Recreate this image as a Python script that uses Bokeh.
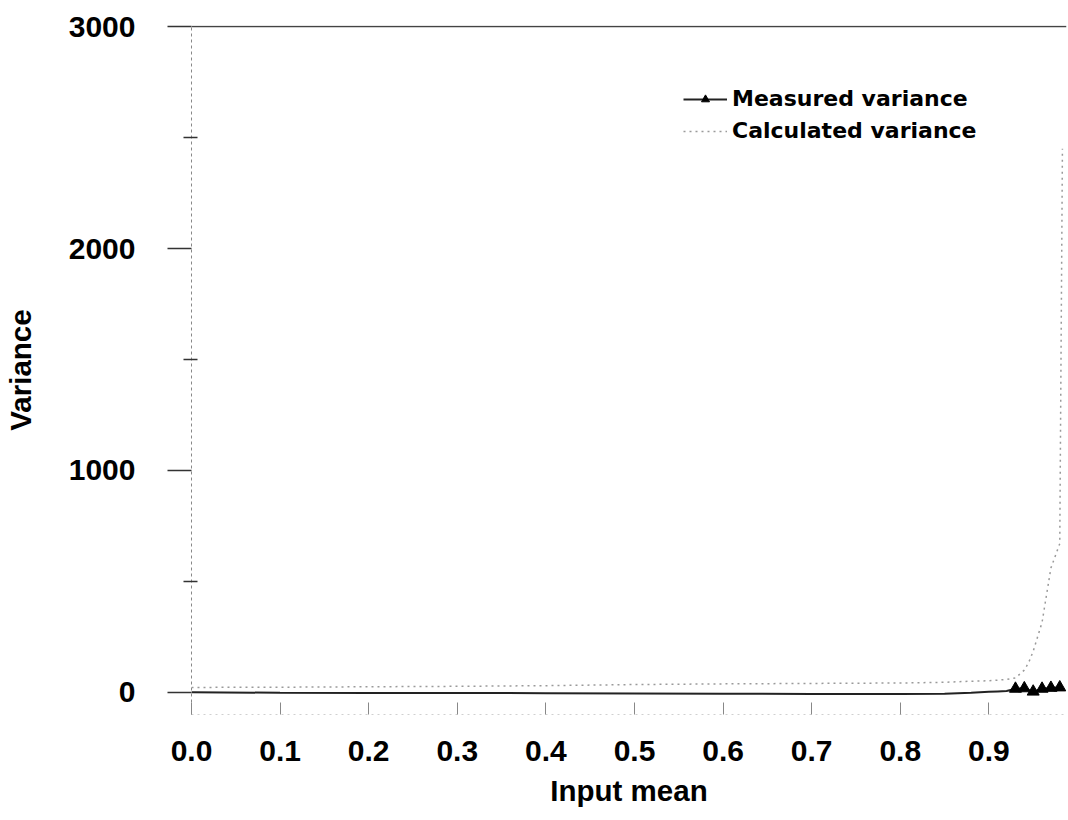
from bokeh.plotting import figure
from bokeh.models import Range1d, FixedTicker, Span, Legend, LegendItem, ColumnDataSource
from bokeh.embed import file_html
from bokeh.resources import INLINE

# ---- data ----
x_ticks = [0.0, 0.1, 0.2, 0.3, 0.4, 0.5, 0.6, 0.7, 0.8, 0.9]
x_tick_labels = ["0.0", "0.1", "0.2", "0.3", "0.4", "0.5", "0.6", "0.7", "0.8", "0.9"]
y_ticks = [0, 1000, 2000, 3000]
y_minor_ticks = [500, 1500, 2500]

measured_mean = [0.0, 0.1, 0.2, 0.3, 0.4, 0.5, 0.6, 0.7, 0.8, 0.85, 0.88,
                 0.90, 0.91, 0.92, 0.93, 0.94, 0.95, 0.96, 0.97, 0.98]
measured_var = [0, -2, -3, -3, -4, -5, -6, -8, -8, -6, -2,
                2, 4, 6, 16, 18, 3, 16, 20, 22]

calc_mean = [0.0, 0.1, 0.2, 0.3, 0.4, 0.5, 0.6, 0.7, 0.8, 0.85, 0.88, 0.90,
             0.92, 0.93, 0.94, 0.945, 0.95, 0.96, 0.97, 0.98, 0.983]
calc_var = [22, 23, 25, 27, 30, 35, 38, 40, 42, 45, 50, 52,
            58, 65, 100, 135, 185, 315, 560, 670, 2450]

marker_from = 0.93  # triangles are distinct only from here on

FONT = "Liberation Sans"
LEGEND_FONT = "DejaVu Sans"

p = figure(width=1068, height=820, output_backend="svg", toolbar_location=None,
           x_range=Range1d(0, 0.9876), y_range=Range1d(-100, 3005),
           min_border_left=191, min_border_right=2, min_border_top=25, min_border_bottom=106)
p.outline_line_color = None
p.xgrid.visible = False
p.ygrid.visible = False
p.background_fill_color = "white"
p.border_fill_color = "white"

# top line at 3000
p.add_layout(Span(location=3000, dimension="width", line_color="#444444", line_width=1.5))

calc_src = ColumnDataSource(dict(x=calc_mean, y=calc_var))
meas_src = ColumnDataSource(dict(x=measured_mean, y=measured_var))
mk = [i for i, m in enumerate(measured_mean) if m >= marker_from]
mark_src = ColumnDataSource(dict(x=[measured_mean[i] for i in mk], y=[measured_var[i] for i in mk]))

r_calc = p.line("x", "y", source=calc_src, line_color="#9a9a9a", line_width=1.5, line_dash="2 4")
r_meas = p.line("x", "y", source=meas_src, line_color="#222222", line_width=2)
r_mark = p.scatter("x", "y", source=mark_src, marker="triangle", size=12,
                   fill_color="black", line_color="black")

# x axis
xa = p.xaxis[0]
xa.ticker = FixedTicker(ticks=x_ticks, minor_ticks=[])
xa.major_label_overrides = {t: l for t, l in zip(x_ticks, x_tick_labels)}
xa.axis_line_color = "#d0d0d0"
xa.axis_line_dash = "2 4"
xa.major_tick_in = 12
xa.major_tick_out = 0
xa.major_tick_line_color = "#888888"
xa.minor_tick_line_color = None
xa.major_label_standoff = 26
xa.major_label_text_font = FONT
xa.major_label_text_font_style = "bold"
xa.major_label_text_font_size = "30px"
xa.major_label_text_color = "black"
xa.axis_label = "Input mean"
xa.axis_label_text_font = FONT
xa.axis_label_text_font_style = "bold"
xa.axis_label_text_font_size = "29.5px"
xa.axis_label_text_color = "black"
xa.axis_label_standoff = 10

# y axis
ya = p.yaxis[0]
ya.ticker = FixedTicker(ticks=y_ticks, minor_ticks=y_minor_ticks)
ya.axis_line_color = "#888888"
ya.axis_line_dash = "3 3"
ya.major_tick_out = 24
ya.major_tick_in = 0
ya.major_tick_line_color = "#333333"
ya.major_tick_line_width = 1.5
ya.minor_tick_out = 8
ya.minor_tick_in = 6
ya.minor_tick_line_color = "#333333"
ya.minor_tick_line_width = 1.5
ya.major_label_standoff = 32
ya.major_label_text_font = FONT
ya.major_label_text_font_style = "bold"
ya.major_label_text_font_size = "30px"
ya.major_label_text_color = "black"
ya.axis_label = "Variance"
ya.axis_label_text_font = FONT
ya.axis_label_text_font_style = "bold"
ya.axis_label_text_font_size = "29.5px"
ya.axis_label_text_color = "black"
ya.axis_label_standoff = 29

legend = Legend(items=[LegendItem(label="Measured variance", renderers=[r_meas, r_mark]),
                       LegendItem(label="Calculated variance", renderers=[r_calc])],
                location=(492, 571), padding=0, margin=0, spacing=7,
                glyph_width=44, glyph_height=20, label_height=20, label_standoff=5,
                label_text_font=LEGEND_FONT, label_text_font_style="bold",
                label_text_font_size="22px", label_text_color="black",
                background_fill_alpha=0, border_line_color=None)
p.add_layout(legend)

open("out.html", "w").write(file_html(p, INLINE))
